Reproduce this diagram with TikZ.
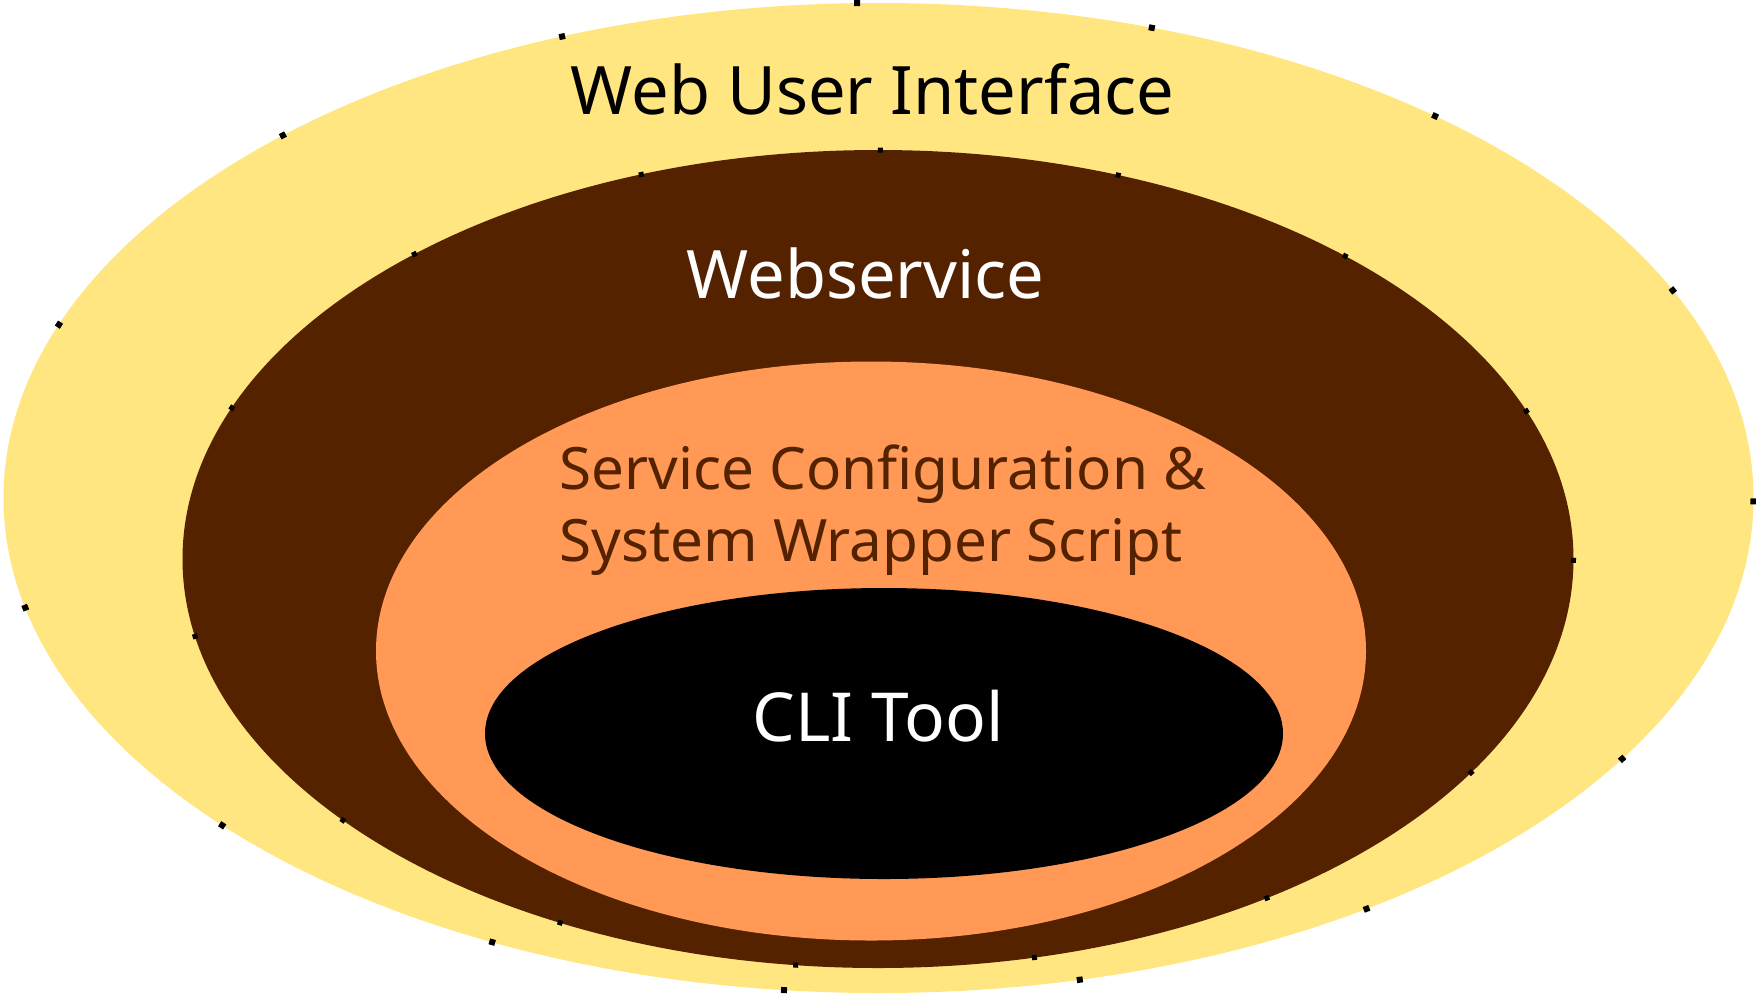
\documentclass[tikz,border=0pt]{standalone}
\usepackage{fontspec}
\setmainfont{Noto Sans}
\definecolor{uiyellow}{HTML}{FFE680}
\definecolor{wsbrown}{HTML}{552200}
\definecolor{cfgorange}{HTML}{FF9955}
\newcommand\ellticks[6]{%
  \foreach \t in {#6}{%
    \fill[black, shift={({#1+#3*cos(\t)},{#2-#4*sin(\t)})}, rotate={atan2(#4*cos(\t),-#3*sin(\t))}] (-#5,-#5) rectangle (#5,#5);
  }}
\tikzset{
  biglabel/.style={inner sep=0pt, anchor=base, font=\fontsize{33.4pt}{40pt}\selectfont},
  cfglabel/.style={inner sep=0pt, anchor=base west, text=wsbrown, font=\fontsize{29.2pt}{36pt}\selectfont}
}
\begin{document}
\begin{tikzpicture}[x=0.5pt,y=-0.5pt]
\useasboundingbox (0,0) rectangle (1756,998);
% layers
\fill[uiyellow] (878.5,498) ellipse [x radius=437.5pt, y radius=247.5pt];
\fill[wsbrown] (878,559) ellipse [x radius=347.75pt, y radius=204.5pt];
\fill[cfgorange] (871,651) ellipse [x radius=247.5pt, y radius=144.75pt];
\fill[black] (884,733.5) ellipse [x radius=199.5pt, y radius=72.75pt];
% tick marks on the two outer outlines
\ellticks{878.5}{498}{875}{495}{1.5pt}{91.4,71.8,50.5,24.8,-0.4,-31.8,-56.1,-76.7,-96.2,-116.2,-138.6,-167.2,159.5,132.9,111.2}
\ellticks{878}{559}{695.5}{409}{1.25pt}{89.8,69.8,47.8,21.2,-0.2,-31.5,-56,-77,-96.8,-117.2,-140.3,-169.1,158.3,131.8,109.9}
% labels
\node[biglabel, text=black] (wui) at (872.5,114) {Web User Interface};
\node[biglabel, text=white] (ws) at (865.5,298) {Webservice};
\node[cfglabel] (cfg1) at (559,489.5) {Service Configuration \&};
\node[cfglabel] (cfg2) at (559,561) {System Wrapper Script};
\node[biglabel, text=white, font=\fontsize{33.8pt}{40pt}\selectfont] (cli) at (878,741) {CLI Tool};
\end{tikzpicture}
\end{document}
